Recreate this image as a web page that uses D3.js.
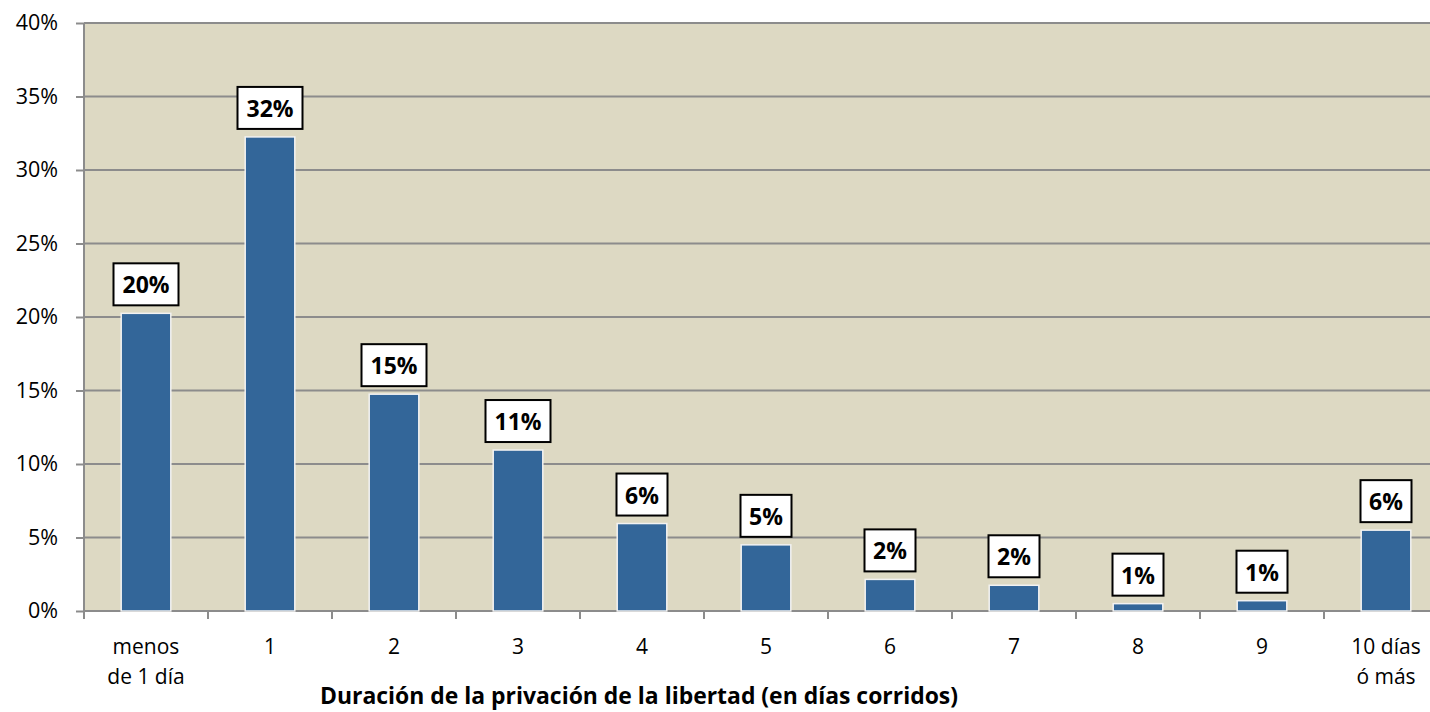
<!DOCTYPE html>
<html>
<head>
<meta charset="utf-8">
<script src="https://cdn.jsdelivr.net/npm/d3@7"></script>
<style>
body{margin:0;background:#fff;}
svg text{font-family:"Open Sans",Lato,sans-serif;}
</style>
</head>
<body>
<div id="chart"></div>
<script>
// datos del gráfico
var categorias = ["menos de 1 día","1","2","3","4","5","6","7","8","9","10 días ó más"];
var valores = [20.25, 32.25, 14.75, 10.95, 5.95, 4.5, 2.15, 1.75, 0.5, 0.7, 5.5];
var etiquetas = ["20%","32%","15%","11%","6%","5%","2%","2%","1%","1%","6%"];
var ticksY = [0,5,10,15,20,25,30,35,40];
var tituloX = "Duración de la privación de la libertad (en días corridos)";

var W = 1430, H = 712;
var m = {left:84, top:23, right:1448, bottom:611};

var svg = d3.select("#chart").append("svg").attr("width",W).attr("height",H);

var x = d3.scaleBand().domain(categorias).range([m.left,m.right]).paddingInner(0.6).paddingOuter(0.3);
var y = d3.scaleLinear().domain([0,40]).range([m.bottom,m.top]);

// fondo del área de trazado
svg.append("rect").attr("x",m.left).attr("y",m.top).attr("width",m.right-m.left).attr("height",m.bottom-m.top).attr("fill","#ddd9c3");

// líneas de la grilla
svg.append("g").selectAll("line").data(ticksY.slice(1)).enter().append("line")
  .attr("x1",m.left).attr("x2",m.right).attr("y1",d=>y(d)).attr("y2",d=>y(d))
  .attr("stroke","#8c8c8c").attr("stroke-width",2);

// eje Y
var ejeY = svg.append("g").attr("transform","translate("+m.left+",0)")
  .call(d3.axisLeft(y).tickValues(ticksY).tickSize(8).tickPadding(18).tickFormat(d=>d+"%"));
ejeY.select(".domain").remove();
ejeY.append("line").attr("x1",0).attr("x2",0).attr("y1",m.top).attr("y2",m.bottom+8).attr("stroke","#8c8c8c").attr("stroke-width",2);
ejeY.selectAll(".tick line").attr("stroke","#8c8c8c").attr("stroke-width",2);
ejeY.selectAll(".tick text").attr("font-size",21.5).attr("fill","#000").attr("font-family","'Open Sans',sans-serif");

// eje X: marcas en los límites de cada categoría
var bordes = categorias.map(c=>x(c)-x.step()*x.paddingInner()/2);
svg.append("line").attr("x1",m.left).attr("x2",m.right).attr("y1",m.bottom).attr("y2",m.bottom).attr("stroke","#8c8c8c").attr("stroke-width",2);
svg.append("g").selectAll("line").data(bordes.concat([m.right])).enter().append("line")
  .attr("x1",d=>d).attr("x2",d=>d).attr("y1",m.bottom).attr("y2",m.bottom+8)
  .attr("stroke","#8c8c8c").attr("stroke-width",2);

// etiquetas de categorías (en dos líneas si hace falta)
function partir(c){
  if(c=="menos de 1 día") return ["menos","de 1 día"];
  if(c=="10 días ó más") return ["10 días","ó más"];
  return [c];
}
var etX = svg.append("g").selectAll("text").data(categorias).enter().append("text")
  .attr("text-anchor","middle").attr("font-size",21).attr("fill","#000")
  .attr("x",d=>x(d)+x.bandwidth()/2).attr("y",654);
etX.each(function(d){
  var t = d3.select(this);
  partir(d).forEach(function(l,i){
    t.append("tspan").attr("x",x(d)+x.bandwidth()/2).attr("dy",i==0?0:30).text(l);
  });
});

// barras
svg.append("g").selectAll("rect").data(valores).enter().append("rect")
  .attr("x",(d,i)=>x(categorias[i])).attr("width",x.bandwidth())
  .attr("y",d=>y(d)).attr("height",d=>y(0)-y(d))
  .attr("fill","#336699").attr("stroke","#f2f2f2").attr("stroke-width",1.5);

// etiquetas de datos con caja
var eti = svg.append("g").selectAll("g").data(valores).enter().append("g")
  .attr("transform",(d,i)=>"translate("+(x(categorias[i])+x.bandwidth()/2)+","+(y(d)-8)+")");
eti.each(function(d,i){
  var g = d3.select(this);
  var w = etiquetas[i].length==3 ? 65 : 51;
  g.append("rect").attr("x",-w/2).attr("y",-42).attr("width",w).attr("height",42)
    .attr("fill","#fff").attr("stroke","#000").attr("stroke-width",2);
  g.append("text").attr("text-anchor","middle").attr("y",-12).attr("font-size",23)
    .attr("font-weight","bold").attr("fill","#000").text(etiquetas[i]);
});

// título del eje X
svg.append("text").attr("x",639).attr("y",704).attr("text-anchor","middle")
  .attr("font-size",23.5).attr("font-weight","bold").attr("fill","#000")
  .attr("textLength",638).attr("lengthAdjust","spacingAndGlyphs").text(tituloX);
</script>
</body>
</html>
